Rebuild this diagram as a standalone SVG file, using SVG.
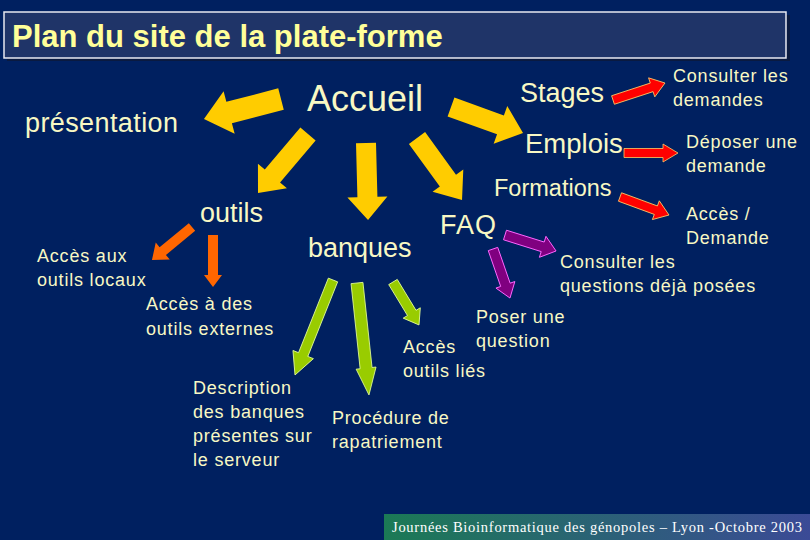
<svg xmlns="http://www.w3.org/2000/svg" width="810" height="540" viewBox="0 0 810 540">
<defs>
<style>
.t{font-family:"Liberation Sans",Arial,sans-serif;fill:#f8f8c4}
.big{font-size:27px}
.sm{font-size:18px;letter-spacing:0.8px}
.yel{fill:#ffcc00}
.red{fill:#ff0000;stroke:#ffcc66;stroke-width:0.8}
.pur{fill:#800080;stroke:#ff66ff;stroke-width:0.9}
.org{fill:#ff6600}
.grn{fill:#99cc00;stroke:#e6ff99;stroke-width:0.8}
</style>
<linearGradient id="foot" x1="0" y1="0" x2="1" y2="0">
<stop offset="0" stop-color="#1b7a55"/>
<stop offset="1" stop-color="#3b4a96"/>
</linearGradient>
</defs>
<rect width="810" height="540" fill="#002060"/>
<g id="title">
<rect x="7" y="15" width="783" height="46" fill="#0a1a40"/>
<rect x="4" y="12" width="782" height="46" fill="#1f3468" stroke="#e8e8f0" stroke-width="1.5"/>
<text x="12" y="47" style="font-family:'Liberation Sans',Arial,sans-serif;font-weight:bold;font-size:31px;fill:#ffff99">Plan du site de la plate-forme</text>
</g>
<g id="connectors">
<polygon class="yel" transform="translate(281,99) rotate(165.4)" points="0,-11 53.6,-11 53.6,-22 79.6,0 53.6,22 53.6,11 0,11"/>
<polygon class="yel" transform="translate(308,134) rotate(130.3)" points="0,-10 55,-10 55,-19 77.3,0 55,19 55,10 0,10"/>
<polygon class="yel" transform="translate(366,143) rotate(88.5)" points="0,-10 54,-10 54,-20 77,0 54,20 54,10 0,10"/>
<polygon class="yel" transform="translate(451,107) rotate(19.9)" points="0,-10 52.6,-10 52.6,-20 76.6,0 52.6,20 52.6,10 0,10"/>
<polygon class="yel" transform="translate(417,138) rotate(54)" points="0,-10 52.6,-10 52.6,-19 76.6,0 52.6,19 52.6,10 0,10"/>
<polygon class="red" transform="translate(613,100) rotate(-18.1)" points="0,-4.5 40.7,-4.5 40.7,-10 54.7,0 40.7,10 40.7,4.5 0,4.5"/>
<polygon class="red" transform="translate(624,153)" points="0,-4.5 39,-4.5 39,-9 54,0 39,9 39,4.5 0,4.5"/>
<polygon class="red" transform="translate(620,197) rotate(20.2)" points="0,-4.5 38.2,-4.5 38.2,-10 52.2,0 38.2,10 38.2,4.5 0,4.5"/>
<polygon class="pur" transform="translate(505,235) rotate(17.4)" points="0,-5 39.5,-5 39.5,-11 53.5,0 39.5,11 39.5,5 0,5"/>
<polygon class="pur" transform="translate(493,249) rotate(70.9)" points="0,-5 37.9,-5 37.9,-10 51.9,0 37.9,10 37.9,5 0,5"/>
<polygon class="org" transform="translate(192,227) rotate(140.5)" points="0,-5 37.9,-5 37.9,-11 51.9,0 37.9,11 37.9,5 0,5"/>
<polygon class="org" transform="translate(213,235) rotate(90)" points="0,-5 40,-5 40,-9 52,0 40,9 40,5 0,5"/>
<polygon class="grn" transform="translate(333,280) rotate(111.8)" points="0,-5 80.3,-5 80.3,-11 102.3,0 80.3,11 80.3,5 0,5"/>
<polygon class="grn" transform="translate(357,283) rotate(83.9)" points="0,-6 85.6,-6 85.6,-10 112.6,0 85.6,10 85.6,6 0,6"/>
<polygon class="grn" transform="translate(393,282) rotate(58.8)" points="0,-5 36.2,-5 36.2,-10 50.2,0 36.2,10 36.2,5 0,5"/>
</g>
<g id="accueil"><text class="t" x="307" y="111" style="font-size:36px">Accueil</text></g>
<g id="presentation"><text class="t big" x="25" y="132" style="letter-spacing:0.4px">présentation</text></g>
<g id="stages"><text class="t big" x="520" y="102">Stages</text></g>
<g id="emplois"><text class="t" x="525" y="153" style="font-size:27.5px">Emplois</text></g>
<g id="formations"><text class="t" x="494" y="196" style="font-size:23.5px">Formations</text></g>
<g id="faq"><text class="t big" x="440" y="234" style="letter-spacing:1px">FAQ</text></g>
<g id="outils"><text class="t big" x="200" y="222">outils</text></g>
<g id="banques"><text class="t big" x="308" y="257">banques</text></g>
<g id="consulter-demandes"><text class="t sm" x="673" y="82">Consulter les</text><text class="t sm" x="673" y="106">demandes</text></g>
<g id="deposer"><text class="t sm" x="686" y="148">Déposer une</text><text class="t sm" x="686" y="172">demande</text></g>
<g id="acces-demande"><text class="t sm" x="686" y="220">Accès /</text><text class="t sm" x="686" y="244">Demande</text></g>
<g id="consulter-questions"><text class="t sm" x="560" y="268">Consulter les</text><text class="t sm" x="560" y="292">questions déjà posées</text></g>
<g id="poser"><text class="t sm" x="476" y="323">Poser une</text><text class="t sm" x="476" y="347">question</text></g>
<g id="acces-lies"><text class="t sm" x="403" y="353">Accès</text><text class="t sm" x="403" y="377">outils liés</text></g>
<g id="procedure"><text class="t sm" x="332" y="424">Procédure de</text><text class="t sm" x="332" y="448">rapatriement</text></g>
<g id="description"><text class="t sm" x="193" y="394">Description</text><text class="t sm" x="193" y="418">des banques</text><text class="t sm" x="193" y="442">présentes sur</text><text class="t sm" x="193" y="466">le serveur</text></g>
<g id="acces-locaux"><text class="t sm" x="37" y="262">Accès aux</text><text class="t sm" x="37" y="286">outils locaux</text></g>
<g id="acces-externes"><text class="t sm" x="146" y="310">Accès à des</text><text class="t sm" x="146" y="335">outils externes</text></g>
<g id="footer">
<rect x="384" y="514" width="426" height="26" fill="url(#foot)"/>
<text x="392" y="532" textLength="410" style="font-family:'Liberation Serif','Times New Roman',serif;font-size:14.5px;fill:#ffffff">Journées Bioinformatique des génopoles – Lyon -Octobre  2003</text>
</g>
</svg>
